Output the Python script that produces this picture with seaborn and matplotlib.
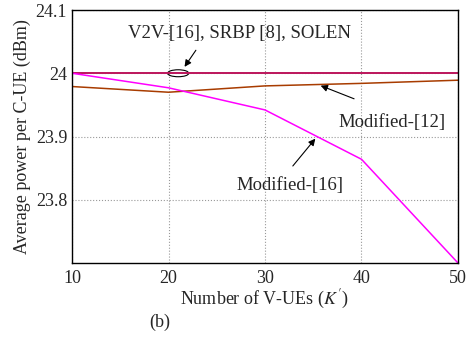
import numpy as np
import pandas as pd
import matplotlib
matplotlib.use("Agg")
import matplotlib.pyplot as plt
from matplotlib.patches import Ellipse
import seaborn as sns

# data
num_vues = [10, 20, 30, 40, 50]
v2v_16 = [24.0, 24.0, 24.0, 24.0, 24.0]
srbp_8 = [24.0, 24.0, 24.0, 24.0, 24.0]
solen = [24.0, 24.0, 24.0, 24.0, 24.0]
modified_12 = [23.979, 23.970, 23.980, 23.984, 23.989]
modified_16 = [24.0, 23.977, 23.942, 23.864, 23.70]
x_ticks = [10, 20, 30, 40, 50]
y_ticks = [23.8, 23.9, 24.0, 24.1]
y_tick_labels = ["23.8", "23.9", "24", "24.1"]

sns.set_style("white")
plt.rcParams['font.family'] = ['Liberation Serif', 'DejaVu Serif']
plt.rcParams['mathtext.fontset'] = 'stix'

df = pd.DataFrame({
    "K": num_vues * 5,
    "power": v2v_16 + srbp_8 + solen + modified_12 + modified_16,
    "scheme": (["V2V-[16]"] * 5 + ["SRBP [8]"] * 5 + ["SOLEN"] * 5
               + ["Modified-[12]"] * 5 + ["Modified-[16]"] * 5),
})
palette = {"V2V-[16]": "#3030c0", "SRBP [8]": "#8a3a9a", "SOLEN": "#d0104a",
           "Modified-[12]": "#a83c00", "Modified-[16]": "#ff00ff"}

fig = plt.figure(figsize=(4.75, 3.39), dpi=100)
ax = fig.add_axes([72 / 475, 1 - 263 / 339, 386 / 475, 253 / 339])
sns.lineplot(data=df, x="K", y="power", hue="scheme", palette=palette,
             linewidth=1.1, legend=False, ax=ax)

ax.set_xlim(10, 50)
ax.set_ylim(23.7, 24.1)
ax.set_xticks(x_ticks)
ax.set_yticks(y_ticks)
ax.set_yticklabels(y_tick_labels)
ax.tick_params(direction="in", labelsize=13, length=3)
ax.tick_params(axis="x", pad=5)
ax.grid(True, linestyle=":", color="#999999", linewidth=0.8)
for s in ax.spines.values():
    s.set_color("black")
    s.set_linewidth(1.0)

ax.set_xlabel("Number of V-UEs ($K'$)", fontsize=13, labelpad=1)
ax.set_ylabel("Average power per C-UE (dBm)", fontsize=13, labelpad=3)

# annotations
ax.add_patch(Ellipse((21.0, 24.0), 2.2, 0.011, fill=False, color="black", linewidth=0.8))
ax.annotate("", xy=(21.5, 24.0065), xytext=(23.0, 24.04),
            arrowprops=dict(arrowstyle="-|>", color="black", lw=0.8, mutation_scale=10))
ax.text(15.8, 24.063, "V2V-[16], SRBP [8], SOLEN", fontsize=13.5, va="center")

ax.annotate("", xy=(35.5, 23.982), xytext=(39.5, 23.958),
            arrowprops=dict(arrowstyle="-|>", color="black", lw=0.8, mutation_scale=10))
ax.text(37.6, 23.922, "Modified-[12]", fontsize=13.5, va="center")

ax.annotate("", xy=(35.4, 23.9), xytext=(32.7, 23.85),
            arrowprops=dict(arrowstyle="-|>", color="black", lw=0.8, mutation_scale=10))
ax.text(27.0, 23.823, "Modified-[16]", fontsize=13.5, va="center")

fig.text(160 / 475, 1 - 322 / 339, "(b)", fontsize=13, ha="center", va="center")

fig.savefig("out.png", dpi=100)
